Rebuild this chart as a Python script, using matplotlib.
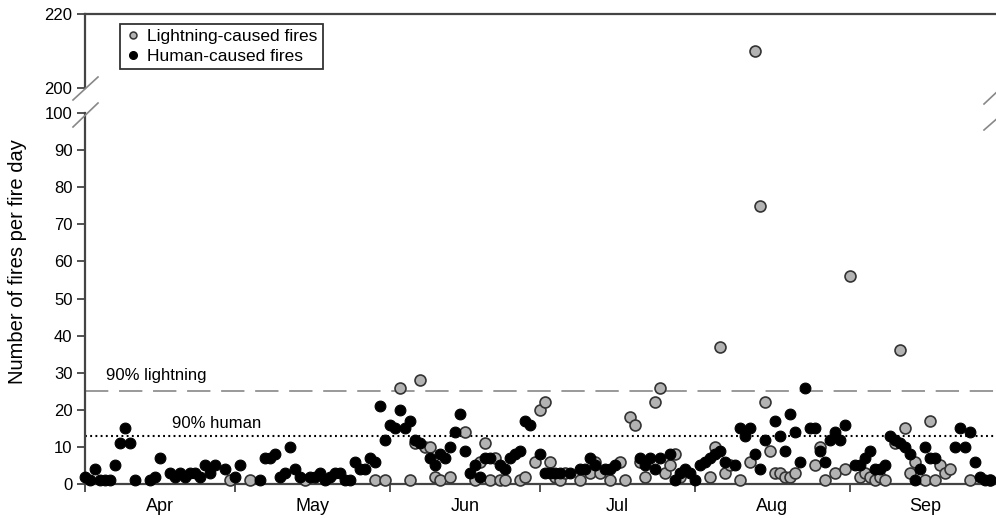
import matplotlib
matplotlib.use('Agg')
import matplotlib.pyplot as plt
from matplotlib.lines import Line2D

plt.rcParams['font.family'] = ['Liberation Sans', 'DejaVu Sans']

# day index counted from 1 April, fires per fire day
human_day = [0, 1, 2, 3, 4, 5, 6, 7, 8, 9, 10, 13, 14, 15, 17, 18, 19, 20, 21, 22,
             23, 24, 25, 26, 28, 30, 31, 35, 36, 37, 38, 39, 40, 41, 42, 43, 45, 46, 47, 48,
             49, 50, 51, 52, 53, 54, 55, 56, 57, 58, 59, 60, 61, 62, 63, 64, 65, 66, 67, 69,
             70, 71, 72, 73, 74, 75, 76, 77, 78, 79, 80, 81, 83, 84, 85, 86, 87, 88, 89, 91,
             92, 93, 94, 95, 97, 99, 100, 101, 102, 104, 105, 106, 111, 112, 113, 114, 115, 117, 118, 119,
             120, 121, 122, 123, 124, 125, 126, 127, 128, 130, 131, 132, 133, 134, 135, 136, 138, 139, 140, 141,
             142, 143, 144, 145, 146, 147, 148, 149, 150, 151, 152, 154, 155, 156, 157, 158, 159, 160, 161, 162,
             163, 164, 165, 166, 167, 168, 169, 170, 174, 175, 176, 177, 178, 179, 180, 181]
human_val = [2, 1, 4, 1, 1, 1, 5, 11, 15, 11, 1, 1, 2, 7, 3, 2, 3, 2, 3, 3,
             2, 5, 3, 5, 4, 2, 5, 1, 7, 7, 8, 2, 3, 10, 4, 2, 2, 2, 3, 1,
             2, 3, 3, 1, 1, 6, 4, 4, 7, 6, 21, 12, 16, 15, 20, 15, 17, 12, 11, 7,
             5, 8, 7, 10, 14, 19, 9, 3, 5, 2, 7, 7, 5, 4, 7, 8, 9, 17, 16, 8,
             3, 3, 3, 3, 3, 4, 4, 7, 5, 4, 4, 5, 7, 5, 7, 4, 7, 8, 1, 3,
             4, 3, 1, 5, 6, 7, 8, 9, 6, 5, 15, 13, 15, 8, 4, 12, 17, 13, 9, 19,
             14, 6, 26, 15, 15, 9, 6, 12, 14, 12, 16, 5, 5, 7, 9, 4, 4, 5, 13, 12,
             11, 10, 8, 1, 4, 10, 7, 7, 10, 15, 10, 14, 6, 2, 1, 1]

light_day = [29, 33, 44, 58, 60, 63, 65, 66, 67, 68, 69, 70, 71, 73, 76, 78, 79, 80, 81, 82,
             83, 84, 87, 88, 90, 91, 92, 93, 94, 95, 96, 99, 101, 102, 103, 105, 107, 108, 109, 110,
             111, 112, 114, 115, 116, 117, 118, 119, 125, 126, 127, 128, 129, 131, 133, 134, 135, 136, 137, 138,
             139, 140, 141, 142, 146, 147, 148, 150, 152, 153, 155, 156, 157, 158, 159, 160, 162, 163, 164, 165,
             166, 168, 169, 170, 171, 172, 173, 177, 181]
light_val = [1, 1, 1, 1, 1, 26, 1, 11, 28, 10, 10, 2, 1, 2, 14, 1, 6, 11, 1, 7,
             1, 1, 1, 2, 6, 20, 22, 6, 2, 1, 3, 1, 3, 6, 3, 1, 6, 1, 18, 16,
             6, 2, 22, 26, 3, 5, 8, 2, 2, 10, 37, 3, 5, 1, 6, 210, 75, 22, 9, 3,
             3, 2, 2, 3, 5, 10, 1, 3, 4, 56, 2, 3, 2, 1, 2, 1, 11, 36, 15, 3,
             6, 1, 17, 1, 5, 3, 4, 1, 1]

month_start = [0, 30, 61, 91, 122, 153]
month_mid = [15, 45.5, 76, 106.5, 137.5, 168]
month_names = ['Apr', 'May', 'Jun', 'Jul', 'Aug', 'Sep']
pct90_lightning = 25
pct90_human = 12.9

spine_c = '#444444'
gray_fill = '#b3b3b3'

fig = plt.figure(figsize=(9.96, 5.18), dpi=100)
ax_top = fig.add_axes([0.0853, 0.8301, 0.9147, 0.1429])
ax = fig.add_axes([0.0853, 0.0656, 0.9147, 0.7162])

for a in (ax, ax_top):
    a.set_xlim(0, 182.2)
    a.scatter(light_day, light_val, s=62, c=gray_fill, edgecolors='#333333',
              linewidths=1.2, zorder=3, clip_on=False)
    a.scatter(human_day, human_val, s=60, c='black', edgecolors='black',
              linewidths=0.8, zorder=4, clip_on=False)
    a.tick_params(axis='y', direction='out', length=6, width=1.3, color=spine_c,
                  labelsize=12, pad=3)

ax.set_ylim(0, 100)
ax_top.set_ylim(200, 220)
ax.set_yticks(range(0, 101, 10))
ax_top.set_yticks([200, 220])

ax.axhline(pct90_lightning, color='#999999', lw=1.4, dashes=(12, 5.5), zorder=2)
ax.axhline(pct90_human, color='black', lw=1.5, linestyle=(0, (0.9, 1.6)), zorder=2)
ax.text(4.3, 29.3, '90% lightning', fontsize=12, va='center', ha='left')
ax.text(17.4, 16.2, '90% human', fontsize=12, va='center', ha='left')

# spines
for s in ('top', 'right'):
    ax.spines[s].set_visible(False)
for s in ('bottom', 'right'):
    ax_top.spines[s].set_visible(False)
for a in (ax, ax_top):
    for s in a.spines.values():
        s.set_color(spine_c)
        s.set_linewidth(1.6)

ax_top.set_xticks([])
ax.set_xticks(month_start)
ax.set_xticklabels([])
ax.set_xticks(month_mid, minor=True)
ax.set_xticklabels(month_names, minor=True)
ax.tick_params(axis='x', which='major', direction='out', length=6, width=1.3, color=spine_c)
ax.tick_params(axis='x', which='minor', length=0, labelsize=13, pad=10)

fig.text(18 / 996, 1 - 262 / 518, 'Number of fires per fire day', rotation=90,
         fontsize=14.5, ha='center', va='center')

# axis break marks
W, H = 996.0, 518.0
for (x0, y0, x1, y1) in [(73, 100, 98, 77), (73, 127, 98, 103),
                         (984, 104, 1000, 89), (984, 130, 1000, 116)]:
    fig.add_artist(Line2D([x0 / W, x1 / W], [1 - y0 / H, 1 - y1 / H],
                          color='#888888', lw=1.2, transform=fig.transFigure))

h_l = Line2D([], [], marker='o', ls='', ms=5, mfc=gray_fill, mec='#333333', mew=1.1)
h_h = Line2D([], [], marker='o', ls='', ms=5.5, mfc='black', mec='black')
leg = ax_top.legend([h_l, h_h], ['Lightning-caused fires', 'Human-caused fires'],
                    loc='upper left', bbox_to_anchor=(0.038, 0.865), borderaxespad=0,
                    fontsize=12.5, frameon=True, fancybox=False, handletextpad=0.3,
                    handlelength=1.0, borderpad=0.3, labelspacing=0.25)
leg.get_frame().set_edgecolor('black')
leg.get_frame().set_linewidth(1.3)

fig.savefig('out.png', dpi=100)
